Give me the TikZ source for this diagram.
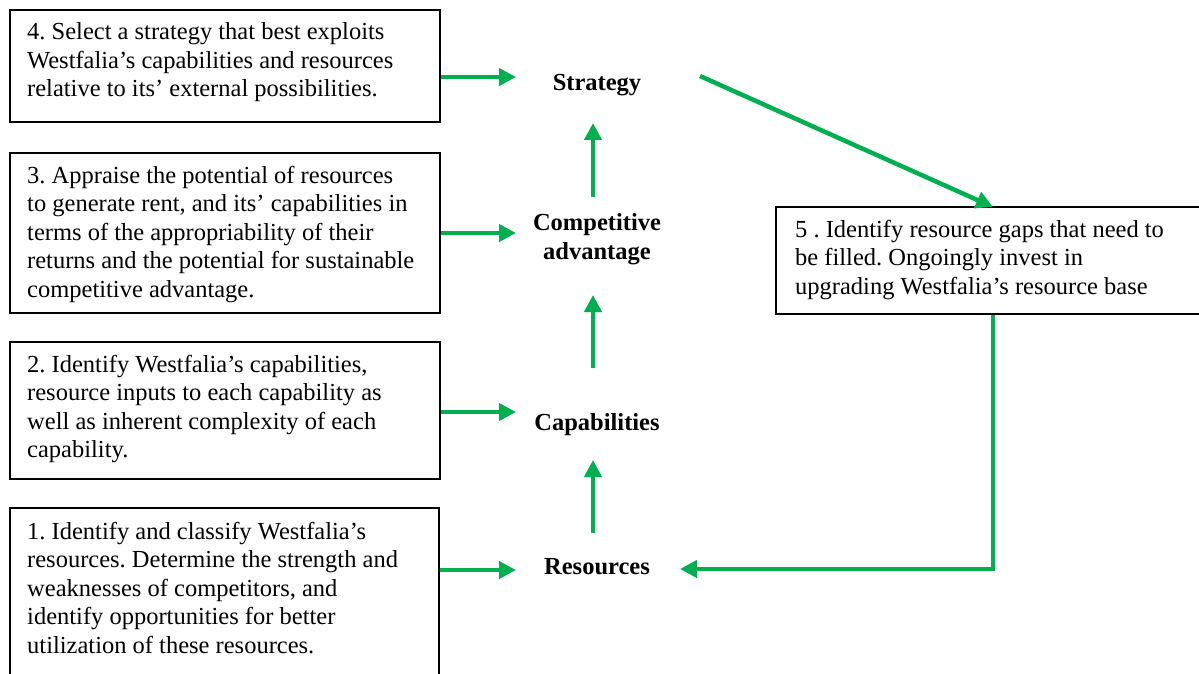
\documentclass[tikz,border=0pt]{standalone}
\usepackage{fontspec}
\setmainfont{Liberation Serif}
\usetikzlibrary{arrows.meta,calc}
\definecolor{flowgreen}{HTML}{00B050}
\begin{document}
\frenchspacing
\begin{tikzpicture}[x=1pt,y=-1pt,
  boxr/.style={draw=black,line width=1.8pt,rectangle,inner sep=0pt,anchor=north west},
  txt/.style={inner sep=0pt,anchor=base west,font=\fontsize{24.5}{28.5}\selectfont},
  lbl/.style={inner sep=0pt,align=center,font=\fontsize{24.5}{28.5}\selectfont\bfseries},
  arr/.style={draw=flowgreen,line width=4.5pt,-{Triangle[length=17pt,width=17pt]}}]
\useasboundingbox (0,0) rectangle (1199,674);
% boxes
\node[boxr,minimum width=430pt,minimum height=112pt] (b4) at (9,9) {};
\node[boxr,minimum width=430pt,minimum height=160pt] (b3) at (9,152) {};
\node[boxr,minimum width=430pt,minimum height=137pt] (b2) at (9,341) {};
\node[boxr,minimum width=429pt,minimum height=200pt] (b1) at (9,507) {};
\node[boxr,minimum width=440pt,minimum height=107pt] (b5) at (775,206) {};
% texts
\node[txt] (t4) at (27,40) {\parbox[t]{450pt}{4. Select a strategy that best exploits\\Westfalia’s capabilities and resources\\relative to its’ external possibilities.}};
\node[txt] (t3) at (27,183) {\parbox[t]{450pt}{3. Appraise the potential of resources\\to generate rent, and its’ capabilities in\\terms of the appropriability of their\\returns and the potential for sustainable\\competitive advantage.}};
\node[txt] (t2) at (27,372) {\parbox[t]{450pt}{2. Identify Westfalia’s capabilities,\\resource inputs to each capability as\\well as inherent complexity of each\\capability.}};
\node[txt] (t1) at (27,539) {\parbox[t]{450pt}{1. Identify and classify Westfalia’s\\resources. Determine the strength and\\weaknesses of competitors, and\\identify opportunities for better\\utilization of these resources.}};
\node[txt] (t5) at (795,237) {\parbox[t]{450pt}{5 . Identify resource gaps that need to\\be filled. Ongoingly invest in\\upgrading Westfalia’s resource base}};
% labels
\node[lbl] (s) at (597,85) {Strategy};
\node[lbl] (ca) at (597,239) {Competitive\\advantage};
\node[lbl] (cap) at (597,425) {Capabilities};
\node[lbl] (res) at (597,567) {Resources};
% arrow end points
\path ($(s)+(-81,-8)$) coordinate (e4)
      ($(ca)+(-81,-6)$) coordinate (e3)
      ($(cap)+(-81,-13)$) coordinate (e2)
      ($(res)+(-81,3)$) coordinate (e1);
% horizontal arrows
\draw[arr] (b4.east |- e4) -- (e4);
\draw[arr] (b3.east |- e3) -- (e3);
\draw[arr] (b2.east |- e2) -- (e2);
\draw[arr] (b1.east |- e1) -- (e1);
% vertical arrows
\draw[arr] ($(ca)+(-4,-42)$) -- ($(s)+(-4,38)$);
\draw[arr] ($(cap)+(-4,-57)$) -- ($(ca)+(-4,56)$);
\draw[arr] ($(res)+(-4,-34)$) -- ($(cap)+(-4,35)$);
% strategy to box 5
\draw[arr] ($(s)+(103,-9)$) -- ($(b5.north west)+(218,1)$);
% feedback
\draw[arr,line join=miter] ($(b5.south west)+(218,0)$) |- ($(res)+(83,2)$);
\end{tikzpicture}
\end{document}
